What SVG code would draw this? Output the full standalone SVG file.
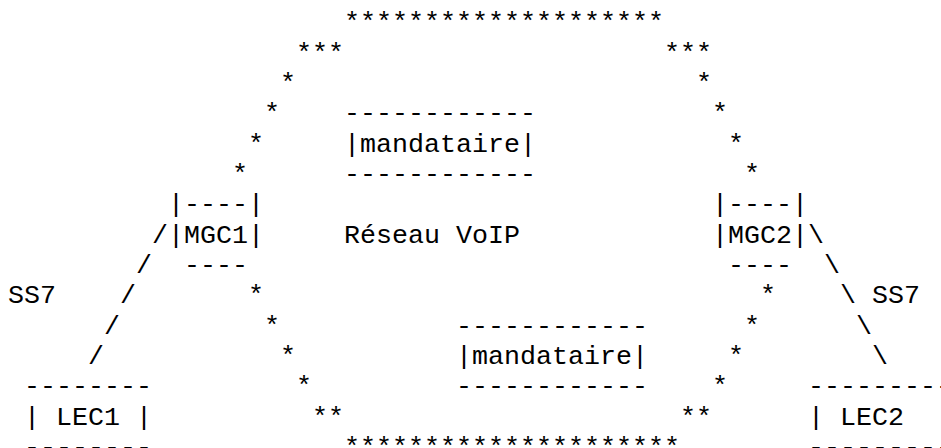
<svg xmlns="http://www.w3.org/2000/svg" width="941" height="448" viewBox="0 0 941 448">
<style>
.t{font-family:"Liberation Mono","Courier New",monospace;font-size:26.667px;fill:#000;white-space:pre}
</style>
<rect width="941" height="448" fill="#fff"/>
<g id="reseau-voip">
<text class="t" x="344" y="30.4">********************</text>
<text class="t" x="296" y="60.7">***</text>
<text class="t" x="664" y="60.7">***</text>
<text class="t" x="280" y="91.1">*</text>
<text class="t" x="696" y="91.1">*</text>
<text class="t" x="264" y="121.4">*</text>
<text class="t" x="712" y="121.4">*</text>
<text class="t" x="248" y="151.7">*</text>
<text class="t" x="728" y="151.7">*</text>
<text class="t" x="232" y="182.1">*</text>
<text class="t" x="744" y="182.1">*</text>
<text class="t" x="344" y="242.7">Réseau VoIP</text>
<text class="t" x="248" y="303.4">*</text>
<text class="t" x="760" y="303.4">*</text>
<text class="t" x="264" y="333.7">*</text>
<text class="t" x="744" y="333.7">*</text>
<text class="t" x="280" y="364.0">*</text>
<text class="t" x="728" y="364.0">*</text>
<text class="t" x="296" y="394.4">*</text>
<text class="t" x="712" y="394.4">*</text>
<text class="t" x="312" y="424.7">**</text>
<text class="t" x="680" y="424.7">**</text>
<text class="t" x="344" y="455.0">*********************</text>
</g>
<g id="mandataire1">
<text class="t" x="344" y="121.4">------------</text>
<text class="t" x="344" y="151.7">|mandataire|</text>
<text class="t" x="344" y="182.1">------------</text>
</g>
<g id="mandataire2">
<text class="t" x="456" y="333.7">------------</text>
<text class="t" x="456" y="364.0">|mandataire|</text>
<text class="t" x="456" y="394.4">------------</text>
</g>
<g id="mgc1">
<text class="t" x="168" y="212.4">|----|</text>
<text class="t" x="168" y="242.7">|MGC1|</text>
<text class="t" x="184" y="273.0">----</text>
</g>
<g id="mgc2">
<text class="t" x="712" y="212.4">|----|</text>
<text class="t" x="712" y="242.7">|MGC2|</text>
<text class="t" x="728" y="273.0">----</text>
</g>
<g id="lec1">
<text class="t" x="24" y="394.4">--------</text>
<text class="t" x="24" y="424.7">| LEC1 |</text>
<text class="t" x="24" y="455.0">--------</text>
</g>
<g id="lec2">
<text class="t" x="808" y="394.4">---------</text>
<text class="t" x="808" y="424.7">| LEC2</text>
<text class="t" x="808" y="455.0">---------</text>
</g>
<g id="connectors">
<text class="t" x="152" y="242.7">/</text>
<text class="t" x="136" y="273.0">/</text>
<text class="t" x="120" y="303.4">/</text>
<text class="t" x="104" y="333.7">/</text>
<text class="t" x="88" y="364.0">/</text>
<text class="t" x="8" y="303.4">SS7</text>
<text class="t" x="808" y="242.7">\</text>
<text class="t" x="824" y="273.0">\</text>
<text class="t" x="840" y="303.4">\</text>
<text class="t" x="856" y="333.7">\</text>
<text class="t" x="872" y="364.0">\</text>
<text class="t" x="872" y="303.4">SS7</text>
</g>
</svg>
